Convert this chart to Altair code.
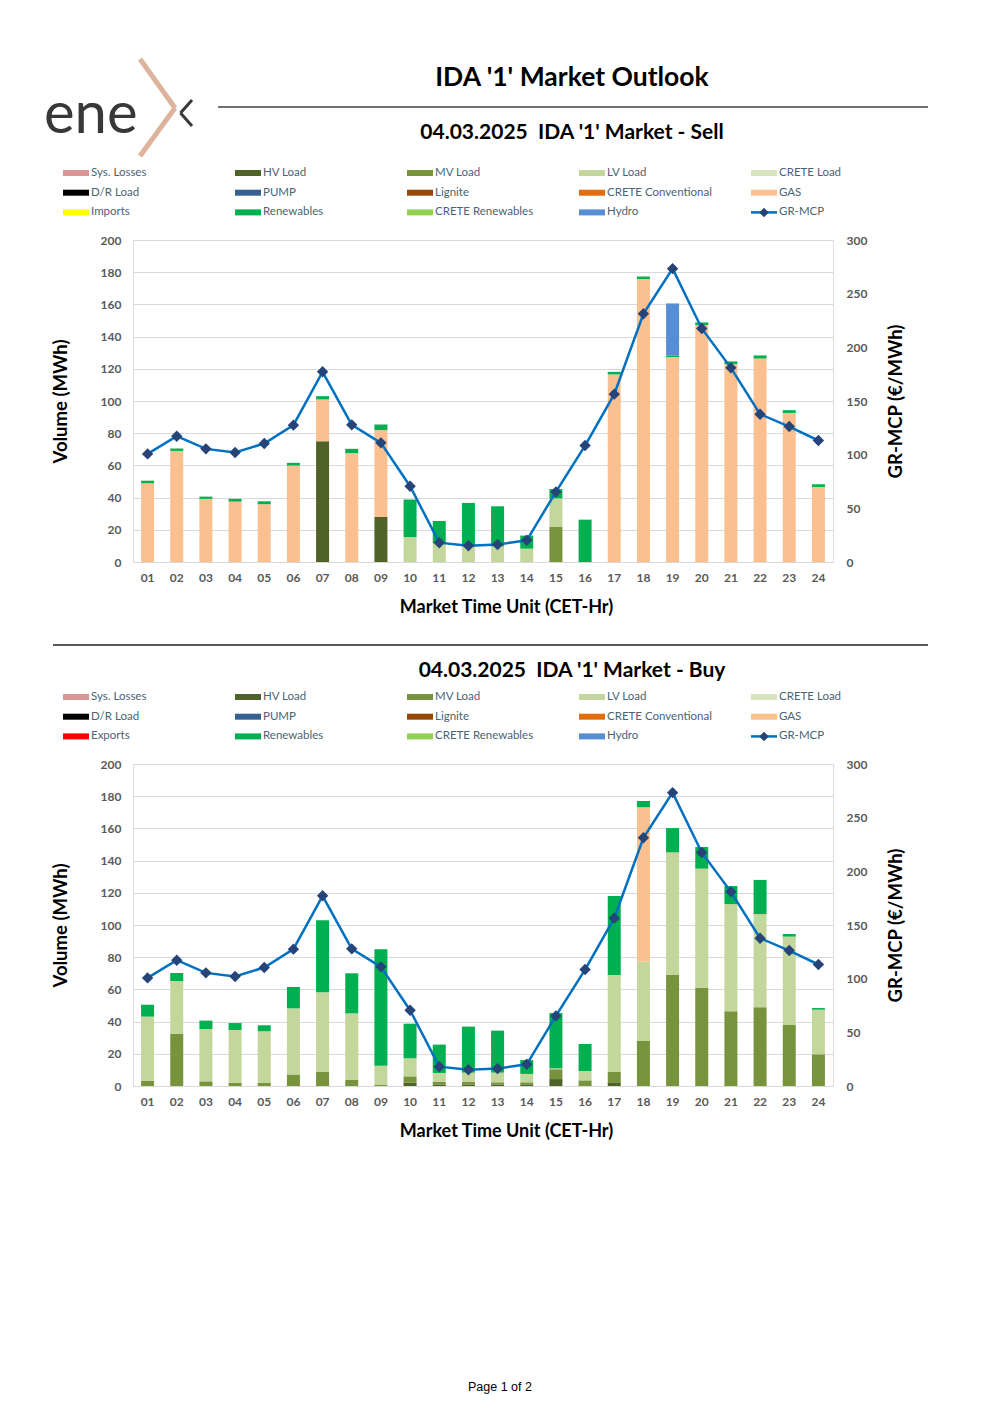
import altair as alt
import pandas as pd

hours = [f"{h:02d}" for h in range(1, 25)]

price = [100.7, 117.2, 105.4, 102.0, 110.4, 127.5, 177.2, 127.8, 111.0, 70.6, 18.0, 15.2,
         16.2, 20.2, 65.3, 108.5, 156.4, 231.3, 273.3, 217.6, 180.9, 137.7, 126.2, 113.2]

# ---- Sell volumes (MWh)
sell_hv = [0, 0, 0, 0, 0, 0, 75, 0, 28, 0, 0, 0, 0, 0, 0, 0, 0, 0, 0, 0, 0, 0, 0, 0]
sell_mv = [0, 0, 0, 0, 0, 0, 0, 0, 0, 0, 0, 0, 0, 0, 22, 0, 0, 0, 0, 0, 0, 0, 0, 0]
sell_lv = [0, 0, 0, 0, 0, 0, 0, 0, 0, 15.5, 11.5, 10, 9.7, 8.3, 17.5, 0, 0, 0, 0, 0, 0, 0, 0, 0]
sell_gas = [49, 69, 39.2, 37.5, 35.9, 59.9, 26, 67.6, 53.9, 0, 0, 0, 0, 0, 0, 0,
            116.5, 175.8, 127.3, 147.2, 122.9, 126.4, 92.6, 46.6]
sell_ren = [1.5, 1.5, 1.4, 1.7, 1.8, 1.7, 2, 2.7, 3.5, 23.3, 14, 26.7, 24.9, 8.1, 5.8, 26.3,
            1.6, 1.6, 1.0, 1.6, 1.7, 1.9, 1.7, 1.7]
sell_hydro = [0] * 18 + [32.3] + [0] * 5

# ---- Buy volumes (MWh)
buy_hv = [0, 0, 0, 0, 0, 0, 0, 0, 0, 2, 1, 1, 1, 1, 4.3, 0, 2.3, 0, 0, 0, 0, 0, 0, 0]
buy_mv = [3.1, 32.5, 2.9, 2.1, 2.1, 7.2, 8.9, 3.9, 0.6, 4, 1.5, 1.5, 1.3, 1.3, 6.1, 3.5,
          6.6, 28, 68.9, 61.1, 46.4, 48.9, 37.9, 19.7]
buy_lv = [40, 32.7, 32.5, 32.7, 31.9, 41, 49.3, 41.2, 12, 11.2, 5.6, 5.8, 6, 5.2, 0.6, 5.8,
          60, 49.2, 76.2, 73.9, 66.6, 57.9, 54.9, 27.7]
buy_gas = [0] * 17 + [95.9] + [0] * 6
buy_ren = [7.4, 5, 5.2, 4.3, 3.7, 13.3, 44.7, 24.9, 72.3, 21.5, 17.6, 28.6, 26.1, 8.6, 34.3,
           16.8, 49.1, 3.9, 15.1, 13.4, 11.2, 21.2, 1.6, 1.0]

series_sell = ["Sys. Losses", "HV Load", "MV Load", "LV Load", "CRETE Load", "D/R Load", "PUMP",
               "Lignite", "CRETE Conventional", "GAS", "Imports", "Renewables",
               "CRETE Renewables", "Hydro", "GR-MCP"]
series_buy = ["Sys. Losses", "HV Load", "MV Load", "LV Load", "CRETE Load", "D/R Load", "PUMP",
              "Lignite", "CRETE Conventional", "GAS", "Exports", "Renewables",
              "CRETE Renewables", "Hydro", "GR-MCP"]
colors_sell = ["#D99694", "#4F6228", "#77933C", "#C3D69B", "#D7E4BD", "#000000", "#376092",
               "#974706", "#E46C0A", "#FAC090", "#FFFF00", "#00B050", "#92D050", "#558ED5",
               "#0070C0"]
colors_buy = ["#D99694", "#4F6228", "#77933C", "#C3D69B", "#D7E4BD", "#000000", "#376092",
              "#974706", "#E46C0A", "#FAC090", "#FF0000", "#00B050", "#92D050", "#558ED5",
              "#0070C0"]

FONT = "Lato"
GRAY = "#595959"
LEGTXT = "#4A6472"


def bars_frame(series_names, vals):
    rows = []
    for name, arr in vals.items():
        o = series_names.index(name)
        for h, v in zip(hours, arr):
            if v > 0:
                rows.append({"hour": h, "series": name, "value": v, "ord": o})
    return pd.DataFrame(rows)


def one():
    return pd.DataFrame({"a": [0]})


def vtext(txt, x, y, size, weight="bold", color="black", font=FONT, align="center"):
    return alt.Chart(one()).mark_text(
        text=txt, font=font, fontSize=size, fontWeight=weight, color=color,
        align=align, baseline="middle").encode(x=alt.value(x), y=alt.value(y))


def vrule(x1, y1, x2, y2, color, width, cap="butt"):
    return alt.Chart(one()).mark_rule(color=color, strokeWidth=width, strokeCap=cap).encode(
        x=alt.value(x1), y=alt.value(y1), x2=alt.value(x2), y2=alt.value(y2))


def panel(bdf, series_names, colors, subtitle, extras, first):
    bars = alt.Chart(bdf).mark_bar(size=13).encode(
        x=alt.X("hour:O", sort=hours,
                scale=alt.Scale(paddingInner=0.1, paddingOuter=0.05),
                axis=alt.Axis(title="Market Time Unit (CET-Hr)", labelAngle=0, ticks=False,
                              domain=False, grid=False, labelColor=GRAY, labelFont=FONT,
                              labelFontWeight="bold", labelFontSize=12, labelPadding=10,
                              titleFont=FONT, titleFontSize=18, titleFontWeight="bold",
                              titleColor="black", titlePadding=15, titleX=373)),
        y=alt.Y("value:Q", stack="zero", scale=alt.Scale(domain=[0, 200]),
                axis=alt.Axis(title="Volume (MWh)", values=list(range(0, 201, 20)),
                              grid=True, gridColor="#D9D9D9", domain=False, ticks=False,
                              labelColor=GRAY, labelFont=FONT, labelFontWeight="bold",
                              labelFontSize=12, labelPadding=12, titleFont=FONT,
                              titleFontSize=18.5, titleFontWeight="bold", titleColor="black",
                              titlePadding=30)),
        color=alt.Color("series:N", scale=alt.Scale(domain=series_names, range=colors),
                        legend=None),
        order=alt.Order("ord:Q", sort="ascending"),
    )
    pdf = pd.DataFrame({"hour": hours, "price": price})
    line = alt.Chart(pdf).mark_line(color="#0070C0", strokeWidth=2.5).encode(
        x=alt.X("hour:O", sort=hours),
        y=alt.Y("price:Q", scale=alt.Scale(domain=[0, 300]),
                axis=alt.Axis(orient="right", title="GR-MCP (€/MWh)",
                              values=list(range(0, 301, 50)), grid=False, domain=False,
                              ticks=False, labelColor=GRAY, labelFont=FONT,
                              labelFontWeight="bold", labelFontSize=12, labelPadding=13,
                              titleFont=FONT, titleFontSize=18.5, titleFontWeight="bold",
                              titleColor="black", titleAngle=270, titleBaseline="top",
                              titlePadding=20)),
    )
    pts = alt.Chart(pdf).mark_point(shape="diamond", filled=True, size=130,
                                    color="#264478", opacity=1).encode(
        x=alt.X("hour:O", sort=hours),
        y=alt.Y("price:Q", scale=alt.Scale(domain=[0, 300]), axis=None),
    )
    main = alt.layer(bars, line, pts).resolve_scale(y="independent")

    # legend
    ldf = pd.DataFrame({"name": series_names, "color": colors,
                        "idx": list(range(len(series_names)))})
    base = alt.Chart(ldf).transform_calculate(
        col="datum.idx % 5", row="floor(datum.idx / 5)"
    ).transform_calculate(
        sx="datum.col * 172 - 70", sx2="datum.col * 172 - 44",
        sm="datum.col * 172 - 57", tx="datum.col * 172 - 42",
        sy="datum.row * 19.7 - 67")
    sw = base.transform_filter("datum.idx < 14").mark_rule(strokeWidth=6).encode(
        x=alt.X("sx:Q", scale=None, axis=None), x2="sx2:Q",
        y=alt.Y("sy:Q", scale=None, axis=None),
        color=alt.Color("color:N", scale=None, legend=None))
    swl = base.transform_filter("datum.idx == 14").mark_rule(strokeWidth=2.5,
                                                              color="#0070C0").encode(
        x=alt.X("sx:Q", scale=None, axis=None), x2="sx2:Q",
        y=alt.Y("sy:Q", scale=None, axis=None))
    swp = base.transform_filter("datum.idx == 14").mark_point(
        shape="diamond", filled=True, size=90, color="#264478", opacity=1).encode(
        x=alt.X("sm:Q", scale=None, axis=None),
        y=alt.Y("sy:Q", scale=None, axis=None))
    lt = base.mark_text(align="left", baseline="middle", font=FONT, fontSize=11.5,
                        color=LEGTXT).encode(
        x=alt.X("tx:Q", scale=None, axis=None),
        y=alt.Y("sy:Q", scale=None, axis=None),
        text="name:N")

    layers = [main, sw, swl, swp, lt, vtext(subtitle, 439, -107 if first else -93, 21)]
    layers += extras
    return alt.layer(*layers).properties(width=700, height=322)


sell_df = bars_frame(series_sell, {"HV Load": sell_hv, "MV Load": sell_mv, "LV Load": sell_lv,
                                   "GAS": sell_gas, "Renewables": sell_ren, "Hydro": sell_hydro})
buy_df = bars_frame(series_buy, {"HV Load": buy_hv, "MV Load": buy_mv, "LV Load": buy_lv,
                                 "GAS": buy_gas, "Renewables": buy_ren})

extras1 = [
    vtext("ene", -89, -124, 58, weight="normal", color="#383838", align="left"),
    vrule(7, -181, 42, -132, "#DDB39B", 5),
    vrule(42, -132, 7, -84, "#DDB39B", 5),
    vrule(59, -140, 47.5, -127, "#383838", 3),
    vrule(47.5, -127, 59, -114, "#383838", 3),
    vtext("IDA '1' Market Outlook", 439, -162, 26.5),
    vrule(85, -133, 795, -133, "#404040", 1.5),
    vrule(-80, 405, 795, 405, GRAY, 2),
]
extras2 = [
    vtext("Page 1 of 2", 367, 623, 12.5, weight="normal", font="Liberation Sans"),
]

NB = "\u00a0"
p1 = panel(sell_df, series_sell, colors_sell, f"04.03.2025 {NB}IDA '1' Market - Sell", extras1, True)
p2 = panel(buy_df, series_buy, colors_buy, f"04.03.2025 {NB}IDA '1' Market - Buy", extras2, False)

chart = alt.vconcat(p1, p2, spacing=202, bounds="flush").properties(
    padding={"left": 35, "top": 48, "right": 5, "bottom": 5}
).configure_view(stroke=None).configure(font=FONT)

chart.save("out.html", embed_options={"renderer": "svg", "actions": False})
